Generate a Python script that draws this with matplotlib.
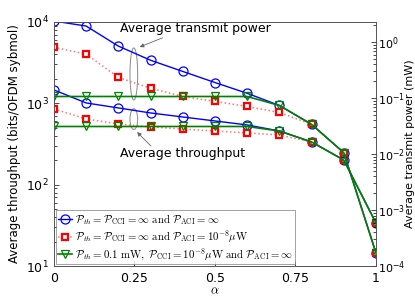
import numpy as np
import matplotlib
matplotlib.use('Agg')
import matplotlib.pyplot as plt
from matplotlib.patches import Ellipse
from matplotlib.font_manager import FontProperties

alpha = [0, 0.1, 0.2, 0.3, 0.4, 0.5, 0.6, 0.7, 0.8, 0.9, 1.0]

# average throughput (left axis, bits/OFDM symbol)
thr_inf = [1459, 1010, 877, 761, 679, 607, 542, 457, 335, 201, 33.8]
thr_aci = [852, 642, 557, 512, 483, 457, 432, 408, 335, 201, 33.8]
thr_cci = [519, 519, 519, 519, 519, 519, 519, 457, 335, 201, 33.8]

# average transmit power (right axis, mW)
pow_inf = [2.38, 1.94, 0.85, 0.475, 0.30, 0.19, 0.122, 0.074, 0.034, 0.0106, 1.71e-4]
pow_aci = [0.81, 0.61, 0.235, 0.150, 0.107, 0.0875, 0.071, 0.0555, 0.034, 0.0106, 1.71e-4]
pow_cci = [0.107, 0.107, 0.107, 0.107, 0.107, 0.107, 0.107, 0.074, 0.034, 0.0106, 1.71e-4]

labels = [r'$\mathcal{P}_{th}=\mathcal{P}_{\rm CCI}=\infty\ \mathrm{and}\ \mathcal{P}_{\rm ACI}=\infty$',
          r'$\mathcal{P}_{th}=\mathcal{P}_{\rm CCI}=\infty\ \mathrm{and}\ \mathcal{P}_{\rm ACI}=10^{-8}\mu\mathrm{W}$',
          r'$\mathcal{P}_{th}=0.1\ \mathrm{mW},\ \mathcal{P}_{\rm CCI}=10^{-8}\mu\mathrm{W}\ \mathrm{and}\ \mathcal{P}_{\rm ACI}=\infty$']

blue = (0, 0, 1)
red = (1, 0, 0)
pink = (1, 0.45, 0.45)
green = (0, 0.5, 0)

fig = plt.figure(figsize=(4.15, 3.0), dpi=100)
ax = fig.add_axes([0.130, 0.113, 0.776, 0.814])
ax2 = ax.twinx()

l1, = ax.plot(alpha, thr_inf, '-o', color=blue, lw=1, ms=6.5, mfc='none', mew=0.9)
l2, = ax.plot(alpha, thr_aci, ':s', color=pink, lw=1.1, ms=5, mec=red, mfc='white', mew=1.6)
l3, = ax.plot(alpha, thr_cci, '-v', color=green, lw=1.2, ms=6, mfc='none', mew=0.9)

ax2.plot(alpha, pow_inf, '-o', color=blue, lw=1, ms=6.5, mfc='none', mew=0.9)
ax2.plot(alpha, pow_aci, ':s', color=pink, lw=1.1, ms=5, mec=red, mfc='white', mew=1.6)
ax2.plot(alpha, pow_cci, '-v', color=green, lw=1.2, ms=6, mfc='none', mew=0.9)

ax.set_yscale('log')
ax2.set_yscale('log')
ax.set_xlim(0, 1)
ax.set_ylim(10, 1e4)
ax2.set_ylim(1e-4, 2.3)
ax.set_xticks([0, 0.25, 0.5, 0.75, 1])
ax.set_xticklabels(['0', '0.25', '0.5', '0.75', '1'])

for a in (ax, ax2):
    a.tick_params(which='both', direction='in', colors='black')
    a.tick_params(which='major', length=3.5, width=0.5)
    a.tick_params(which='minor', length=2, width=0.5)
    for s in a.spines.values():
        s.set_linewidth(0.6)
        s.set_color('#555555')
ax.tick_params(axis='both', labelsize=9)
ax2.tick_params(axis='y', labelsize=8, pad=1.5)
ax.tick_params(axis='x', pad=4)

ax.set_xlabel(r'$\alpha$', fontsize=9, math_fontfamily='cm', labelpad=0)
ax.set_ylabel('Average throughput (bits/OFDM sybmol)', fontsize=8.5, labelpad=4)
ax2.set_ylabel('Average transmit power (mW)', fontsize=8, labelpad=0)

# ellipses and annotations
ax.add_patch(Ellipse((0.248, 0.787), 0.024, 0.213, transform=ax.transAxes,
                     fill=False, ec='#888888', lw=0.7))
ax.add_patch(Ellipse((0.248, 0.602), 0.024, 0.085, transform=ax.transAxes,
                     fill=False, ec='#888888', lw=0.7))
ax.annotate('', xy=(0.258, 0.893), xytext=(0.345, 0.939), xycoords='axes fraction',
            arrowprops=dict(arrowstyle='-|>', color='#666666', lw=0.6, mutation_scale=6))
ax.annotate('', xy=(0.252, 0.557), xytext=(0.307, 0.484), xycoords='axes fraction',
            arrowprops=dict(arrowstyle='-|>', color='#666666', lw=0.6, mutation_scale=6))
ax.text(0.205, 0.972, 'Average transmit power', transform=ax.transAxes,
        fontsize=9, ha='left', va='center')
ax.text(0.205, 0.463, 'Average throughput', transform=ax.transAxes,
        fontsize=9, ha='left', va='center')

leg = ax.legend([l1, l2, l3], labels, loc='lower left',
                prop=FontProperties(size=7.8, math_fontfamily='cm'),
                frameon=True, fancybox=False, edgecolor='#777777',
                borderaxespad=0.15, borderpad=0.2, labelspacing=0.15,
                handlelength=1.3, handletextpad=0.3)
leg.get_frame().set_linewidth(0.6)
leg.set_zorder(5)

plt.savefig('out.png', dpi=100)
